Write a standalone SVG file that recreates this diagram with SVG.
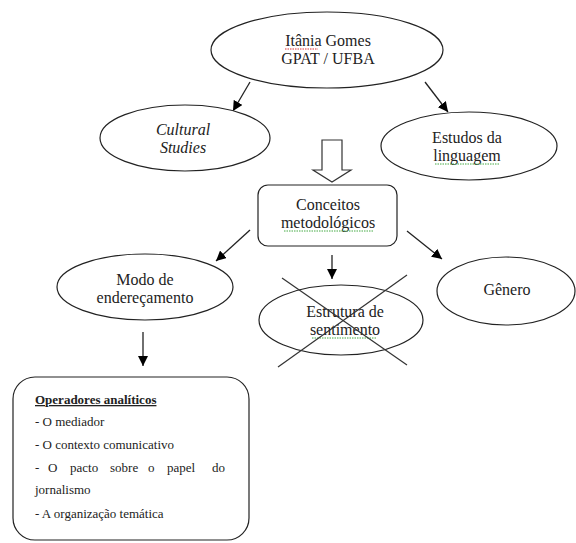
<svg xmlns="http://www.w3.org/2000/svg" width="576" height="543" viewBox="0 0 576 543" font-family="Liberation Serif, Times New Roman, DejaVu Serif, serif">
<defs>
<marker id="ah" viewBox="0 0 10 10" refX="10" refY="5" markerWidth="10" markerHeight="10" markerUnits="userSpaceOnUse" orient="auto">
<path d="M0,0 L10,5 L0,10 z" fill="#000"/>
</marker>
<style>
.n{fill:#fff;stroke:#222;stroke-width:1.2}
.t{font-size:16px;fill:#222;text-anchor:middle}
.b{font-size:13px;fill:#222}
.c{stroke:#222;stroke-width:1.3;fill:none;marker-end:url(#ah)}
.sr{stroke:#d33;stroke-width:1;stroke-dasharray:1.5 1;fill:none}
.sg{stroke:#4a4;stroke-width:1;stroke-dasharray:1.5 1;fill:none}
</style>
</defs>
<rect width="576" height="543" fill="#fff"/>
<g id="connectors">
<line class="c" x1="250" y1="82" x2="233" y2="111"/>
<line class="c" x1="425" y1="82" x2="448" y2="112"/>
<path d="M322,140 H342 V170 H351 L332,182 L313,170 H322 Z" fill="#fff" stroke="#333" stroke-width="1.2"/>
<line class="c" x1="250" y1="230" x2="216" y2="261"/>
<line class="c" x1="332" y1="255" x2="332" y2="279"/>
<line class="c" x1="407" y1="231" x2="442" y2="259"/>
<line class="c" x1="143" y1="332" x2="143" y2="366"/>
</g>
<g id="itania">
<ellipse class="n" cx="327" cy="50" rx="116" ry="38"/>
<text class="t" x="328" y="46">Itânia Gomes</text>
<text class="t" x="328" y="64">GPAT / UFBA</text>
<path class="sr" d="M285,49 H318"/>
</g>
<g id="cultural">
<ellipse class="n" cx="185" cy="138" rx="85" ry="33"/>
<text class="t" x="183" y="135" font-style="italic">Cultural</text>
<text class="t" x="183" y="153" font-style="italic">Studies</text>
</g>
<g id="estudos">
<ellipse class="n" cx="469" cy="146" rx="88" ry="34"/>
<text class="t" x="467" y="143">Estudos da</text>
<text class="t" x="467" y="161">linguagem</text>
<path class="sg" d="M435,164 H499"/>
</g>
<g id="conceitos">
<rect class="n" x="258" y="185" width="139" height="61" rx="10"/>
<text class="t" x="328" y="210">Conceitos</text>
<text class="t" x="328" y="228">metodológicos</text>
<path class="sg" d="M284,231 H373"/>
</g>
<g id="modo">
<ellipse class="n" cx="145" cy="287" rx="88" ry="33"/>
<text class="t" x="145" y="285">Modo de</text>
<text class="t" x="145" y="303">endereçamento</text>
</g>
<g id="estrutura">
<ellipse class="n" cx="341" cy="320" rx="82" ry="35"/>
<text class="t" x="345" y="317">Estrutura de</text>
<text class="t" x="345" y="335">sentimento</text>
<path class="sg" d="M312,338 H377"/>
<line x1="282" y1="278" x2="407" y2="365" stroke="#333" stroke-width="1.2"/>
<line x1="407" y1="275" x2="278" y2="367" stroke="#333" stroke-width="1.2"/>
</g>
<g id="genero">
<ellipse class="n" cx="506" cy="291" rx="69" ry="34"/>
<text class="t" x="507" y="295">Gênero</text>
</g>
<g id="operadores">
<rect class="n" x="13" y="377" width="236" height="163" rx="22"/>
<text class="b" x="35" y="404" font-weight="bold" text-decoration="underline">Operadores analíticos</text>
<text class="b" x="35" y="426">- O mediador</text>
<text class="b" x="35" y="449">- O contexto comunicativo</text>
<text class="b" y="472"><tspan x="35">-</tspan><tspan x="48">O</tspan><tspan x="70">pacto</tspan><tspan x="110">sobre</tspan><tspan x="148">o</tspan><tspan x="167">papel</tspan><tspan x="212">do</tspan></text>
<text class="b" x="35" y="494">jornalismo</text>
<text class="b" x="35" y="518">- A organização temática</text>
</g>
</svg>
